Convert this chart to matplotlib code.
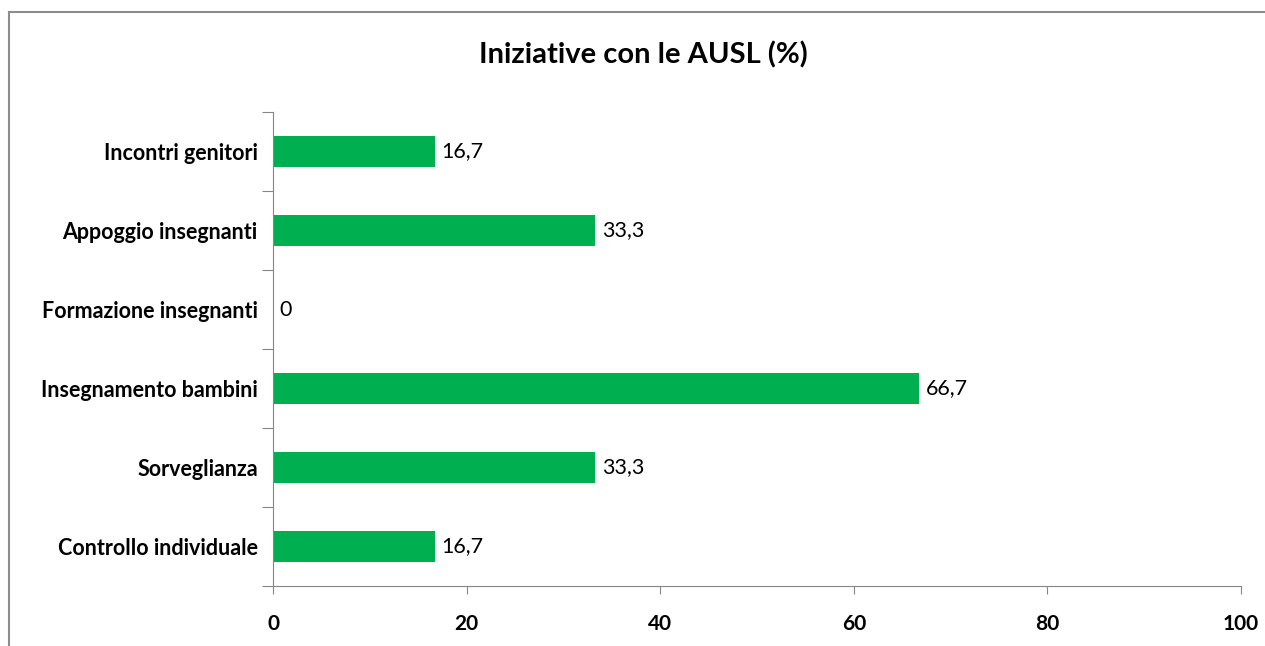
import matplotlib.pyplot as plt
from matplotlib.lines import Line2D

categories = ['Controllo individuale', 'Sorveglianza', 'Insegnamento bambini',
              'Formazione insegnanti', 'Appoggio insegnanti', 'Incontri genitori']
values = [16.7, 33.3, 66.7, 0, 33.3, 16.7]
xticks = [0, 20, 40, 60, 80, 100]

plt.rcParams['font.family'] = ['Lato', 'DejaVu Sans']

W, H = 1265, 646
fig = plt.figure(figsize=(W / 100, H / 100), dpi=100)
ax = fig.add_axes([273 / W, 1 - 586 / H, (1241 - 273) / W, (586 - 112) / H])

# outer chart border (only top and left are visible in the crop)
fig.lines.append(Line2D([9 / W, 1.0], [1 - 12 / H] * 2, transform=fig.transFigure,
                        color='#8c8c8c', linewidth=1.5))
fig.lines.append(Line2D([9 / W] * 2, [0, 1 - 12 / H], transform=fig.transFigure,
                        color='#8c8c8c', linewidth=1.5))

ypos = list(range(len(categories)))
ax.barh(ypos, values, height=0.4, color='#00B050')
for y, v in zip(ypos, values):
    txt = f'{v:.1f}'.replace('.', ',') if v != 0 else '0'
    ax.text(v + 0.7, y, txt, va='center', ha='left', fontsize=15.5)

ax.set_xlim(0, 100)
ax.set_ylim(-0.5, len(categories) - 0.5)
ax.set_xticks(xticks)
ax.set_xticklabels([str(t) for t in xticks], fontsize=15, fontweight='bold')
ax.set_yticks([i - 0.5 for i in range(len(categories) + 1)])
ax.set_yticklabels([])
ax.set_yticks(ypos, minor=True)
ax.set_yticklabels(categories, minor=True, fontsize=15.5, fontweight='bold')
ax.tick_params(axis='y', which='minor', length=0, pad=11)
ax.tick_params(axis='y', which='major', length=8, color='#868686', direction='out')
ax.tick_params(axis='x', length=6, color='#868686', direction='out', pad=14)

for s in ['top', 'right']:
    ax.spines[s].set_visible(False)
for s in ['left', 'bottom']:
    ax.spines[s].set_color('#868686')

fig.text(643 / W, 1 - 55 / H, 'Iniziative con le AUSL (%)', ha='center', va='center',
         fontsize=21, fontweight='bold')

fig.savefig('out.png', dpi=100)
